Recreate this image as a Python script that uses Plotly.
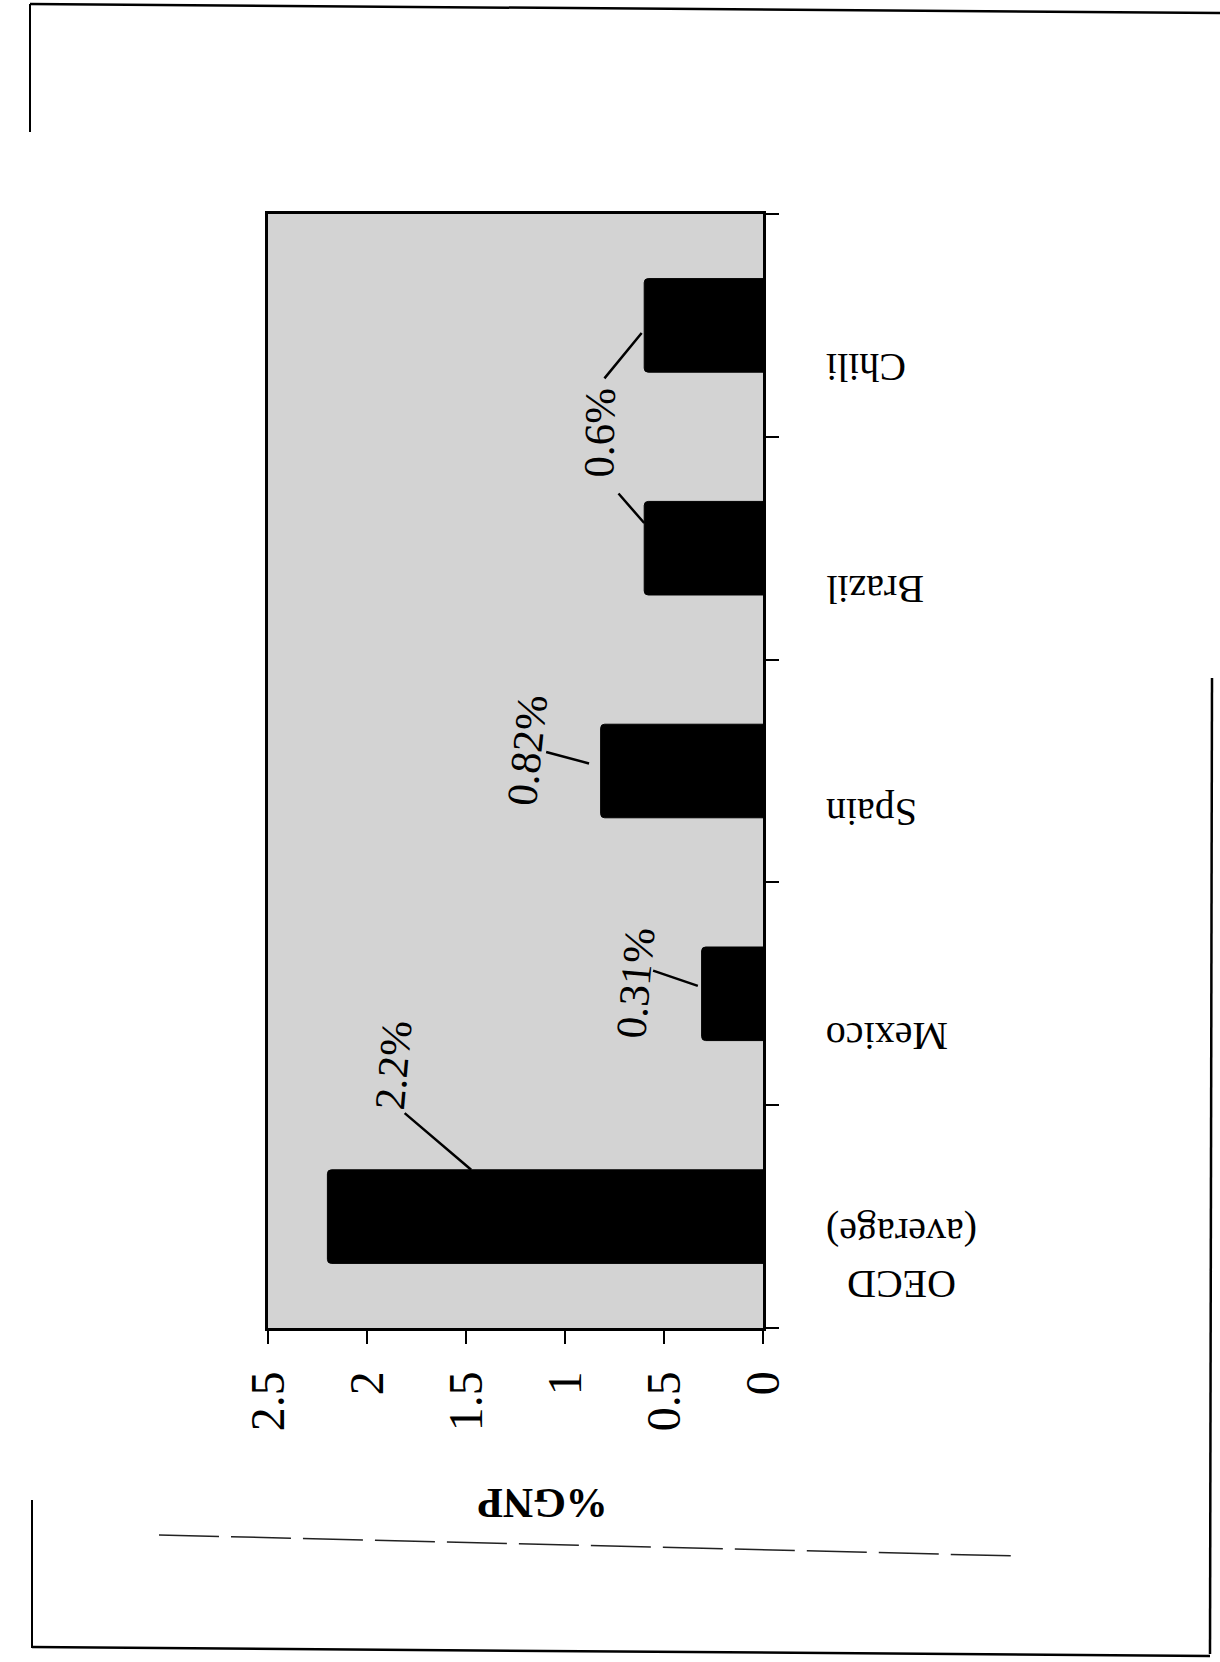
import plotly.graph_objects as go

# ---------------- data ----------------
categories = ["OECD (average)", "Mexico", "Spain", "Brazil", "Chili"]
values = [2.2, 0.31, 0.82, 0.6, 0.6]
x_tick_values = [0, 0.5, 1, 1.5, 2, 2.5]
axis_title = "%GNP"

# ---------------- layout geometry (pixels) ----------------
W, H = 1220, 1662
L, R, T, B = 268, 763, 214, 1328

def pxx(px):
    return (px - L) / (R - L)

def pxy(py):
    return (B - py) / (B - T)

SERIF = "Liberation Serif, Times New Roman, serif"
idx = list(range(len(categories)))
band_edges = [i - 0.5 for i in range(len(categories) + 1)]

fig = go.Figure()
fig.add_trace(go.Bar(
    x=values, y=idx, orientation="h",
    marker=dict(color="black", line=dict(color="black", width=1), cornerradius=4),
    width=0.42, hoverinfo="skip",
))

annotations = []

# category labels (upside down, below band centre)
for i, c in enumerate(categories):
    annotations.append(dict(
        text=c.replace(" (", "<br>("), x=pxx(824), xref="paper", y=i, yref="y",
        xanchor="left", yanchor="middle", yshift=-42, textangle=180,
        showarrow=False, font=dict(family=SERIF, size=40, color="black"),
    ))

# value labels (text) : (bar index, xshift, yshift, angle)
label_spec = [(0, 66, 152, -85), (1, -66, 11, -85), (2, -74, 21, -84), (3, -45, 116, -89)]
for i, xs, ys, ang in label_spec:
    annotations.append(dict(
        text=f"{values[i]}%", x=values[i], y=i, xref="x", yref="y",
        xshift=xs, yshift=ys, textangle=ang, showarrow=False,
        font=dict(family=SERIF, size=43, color="black"),
    ))

# leader lines: (bar index, fraction of value, y offset in category units, ax, ay, standoff)
leader_spec = [(0, 0.67, 0.21, -68, -58, 0), (1, 1.0, 0.03, -50, -17, 4),
               (2, 1.0, 0.02, -56, -15, 12), (3, 1.0, 0.113, -27, -31, 0),
               (4, 1.0, -0.02, -41, 50, 4)]
for i, frac, dy, ax, ay, so in leader_spec:
    annotations.append(dict(
        text="", x=values[i] * frac, y=i + dy, xref="x", yref="y",
        showarrow=True, arrowhead=0, arrowwidth=2.5, arrowcolor="black",
        ax=ax, ay=ay, standoff=so,
    ))

# axis title (upside down)
annotations.append(dict(
    text=f"<b>{axis_title}</b>", x=pxx(543), y=pxy(1503), xref="paper", yref="paper",
    xanchor="center", yanchor="middle", textangle=180, showarrow=False,
    font=dict(family=SERIF, size=42, color="black"),
))

# page decorations: scanned page frame and dashed rule
shapes = []
def seg(x0, y0, x1, y1, width=2, dash="solid", color="black"):
    shapes.append(dict(type="line", xref="paper", yref="paper",
                       x0=pxx(x0), y0=pxy(y0), x1=pxx(x1), y1=pxy(y1),
                       line=dict(color=color, width=width, dash=dash)))

seg(30, 4, 1220, 13, 2.5)          # top frame
seg(30, 4, 30, 132, 2)             # left frame (top part)
seg(32, 1500, 32, 1648, 2)         # left frame (bottom part)
seg(1212, 678, 1210, 1654, 2.5)    # right frame
seg(32, 1647, 1210, 1656, 2.5)     # bottom frame
seg(159, 1535, 1017, 1556, 1.5, "60px,12px", "#222")  # dashed rule

common_axis = dict(showgrid=False, zeroline=False, showline=True, linewidth=3,
                   linecolor="black", automargin=False, fixedrange=True,
                   tickwidth=2, tickcolor="black")

fig.update_layout(
    template="none",
    width=W, height=H,
    margin=dict(l=L, r=W - R, t=T, b=H - B, pad=0, autoexpand=False),
    paper_bgcolor="white",
    plot_bgcolor="#d3d3d3",
    showlegend=False,
    annotations=annotations,
    shapes=shapes,
    font=dict(family=SERIF, color="black"),
    xaxis=dict(
        range=[2.5, 0], tickvals=x_tick_values, ticktext=[f"{v:g}" for v in x_tick_values],
        ticks="outside", ticklen=13,
        tickangle=-90, tickfont=dict(family=SERIF, size=48, color="black"),
        ticklabelstandoff=8, mirror=True, **common_axis,
    ),
    yaxis=dict(
        type="linear", range=[-0.5, len(categories) - 0.5], side="right",
        tickvals=band_edges, showticklabels=False,
        ticks="outside", ticklen=13, mirror=True, **common_axis,
    ),
    # short inner halves of the crossing tick marks
    xaxis2=dict(overlaying="x", matches="x", side="bottom", anchor="y",
                tickvals=x_tick_values, showticklabels=False,
                ticks="inside", ticklen=7, **common_axis),
    yaxis2=dict(overlaying="y", matches="y", side="right", anchor="x",
                tickvals=band_edges, showticklabels=False,
                ticks="inside", ticklen=9, **common_axis),
)

fig.write_html(
    "out.html",
    config={"displayModeBar": False, "staticPlot": True},
    post_script="document.body.style.margin='0';document.body.style.padding='0';",
)
